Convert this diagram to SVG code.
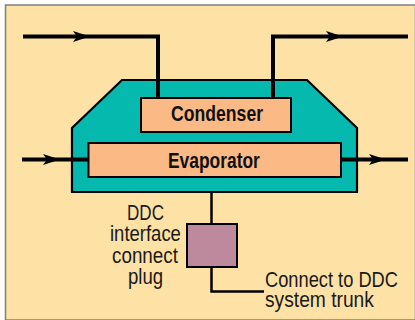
<svg xmlns="http://www.w3.org/2000/svg" width="415" height="320" viewBox="0 0 415 320">
<style>
.lbl{font-family:"Liberation Sans",Arial,sans-serif;font-size:21.500px;fill:#1a1a1a}
.bold{font-family:"Liberation Sans",Arial,sans-serif;font-weight:700;font-size:21.500px;fill:#111}
.box{fill:#fbba85;stroke:#000;stroke-width:2}
.flow{fill:none;stroke:#000;stroke-width:4}
.thin{fill:none;stroke:#000;stroke-width:2.500}
</style>
<defs><path id="ah" d="M0,-5.500 L17,0 L0,5.500 L4,0 Z" fill="#000"/></defs>
<rect x="0" y="0" width="415" height="320" fill="#fff"/>
<rect x="5.500" y="5" width="410" height="315" fill="#fde1a5" stroke="#808080" stroke-width="1.500"/>
<g id="housing"><polygon points="122,80 307,80 357,128 357,192 72,192 72,128" fill="#06b9ae" stroke="#000" stroke-width="2.200"/></g>
<g id="connectors">
<path class="flow" d="M23,36.500 H158 V98"/>
<path class="flow" d="M273,98 V36.500 H408"/>
<path class="flow" d="M22,159.500 H89"/>
<path class="flow" d="M341,159.500 H408"/>
<path class="thin" d="M211.500,192 V224"/>
<path class="thin" d="M211.500,267 V291.500 H264"/>
<use href="#ah" x="73" y="36.500"/>
<use href="#ah" x="326" y="36.500"/>
<use href="#ah" x="43" y="159.500"/>
<use href="#ah" x="369" y="159.500"/>
</g>
<g id="condenser"><rect class="box" x="141" y="98" width="150" height="34"/><text class="bold" transform="translate(171 121) scale(.82 1)">Condenser</text></g>
<g id="evaporator"><rect class="box" x="88.500" y="143" width="252.500" height="34"/><text class="bold" transform="translate(168 168) scale(.81 1)">Evaporator</text></g>
<g id="plug"><rect x="187" y="224" width="50" height="43" fill="#bd8a9d" stroke="#000" stroke-width="2"/></g>
<g id="plug-label">
<text class="lbl" transform="translate(127 220) scale(.794 1)">DDC</text>
<text class="lbl" transform="translate(110 241) scale(.86 1)">interface</text>
<text class="lbl" transform="translate(112 263) scale(.876 1)">connect</text>
<text class="lbl" transform="translate(128 284) scale(.862 1)">plug</text>
</g>
<g id="trunk-label">
<text class="lbl" transform="translate(265 287) scale(.85 1)">Connect to DDC</text>
<text class="lbl" transform="translate(265 307) scale(.894 1)">system trunk</text>
</g>
</svg>
